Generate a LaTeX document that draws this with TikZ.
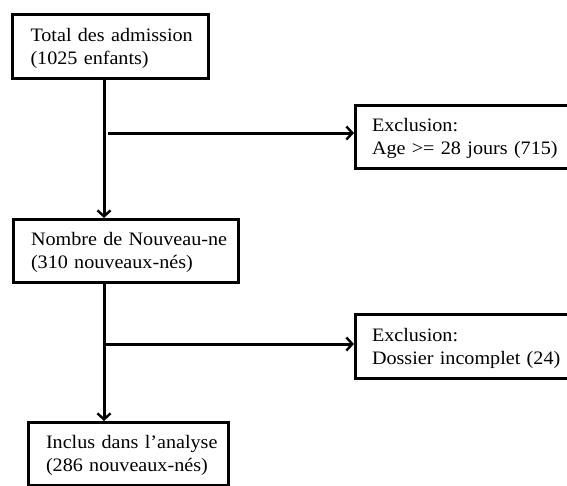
\documentclass[tikz,border=0pt]{standalone}
\usepackage{fontspec}
\setmainfont{Liberation Serif}[FakeStretch=1.06]
\usetikzlibrary{arrows.meta}
\newcommand{\topstrut}{\rule{0pt}{16.5pt}}
\begin{document}
\begin{tikzpicture}[x=1pt,y=-1pt,
  box/.style={draw=black,line width=3pt,fill=white,rectangle,inner xsep=15pt,inner ysep=0pt,
    align=left,font=\fontsize{19}{23.3}\selectfont,anchor=north west},
  arr/.style={line width=3pt,-{Straight Barb[length=6pt,width=13pt,line width=2.4pt]}}]
\useasboundingbox (0,0) rectangle (567,485);
\node[box,minimum width=196pt,minimum height=64pt,text width=160pt] (b1) at (11,13) {\topstrut\mbox{Total des admission}\\\mbox{(1025 enfants)}};
\node[box,minimum width=213pt,minimum height=63pt,text width=180pt] (e1) at (354,104) {\topstrut\mbox{Exclusion:}\\\mbox{Age >= 28 jours (715)}};
\node[box,minimum width=225pt,minimum height=63pt,text width=190pt] (b2) at (12,218) {\topstrut\mbox{Nombre de Nouveau-ne}\\\mbox{(310 nouveaux-nés)}};
\node[box,minimum width=213pt,minimum height=64pt,text width=180pt] (e2) at (354,313) {\topstrut\mbox{Exclusion:}\\\mbox{Dossier incomplet (24)}};
\node[box,minimum width=200pt,minimum height=63pt,text width=165pt] (b3) at (27,421) {\topstrut\mbox{Inclus dans l’analyse}\\\mbox{(286 nouveaux-nés)}};
\coordinate (t) at (104,0);
\coordinate (j1) at (108,133);
\coordinate (j2) at (104,344);
\draw[arr] (b1.south -| t) -- (b2.north -| t);
\draw[arr] (j1) -- (e1.west |- j1);
\draw[arr] (b2.south -| t) -- (b3.north -| t);
\draw[arr] (j2) -- (e2.west |- j2);
\end{tikzpicture}
\end{document}
